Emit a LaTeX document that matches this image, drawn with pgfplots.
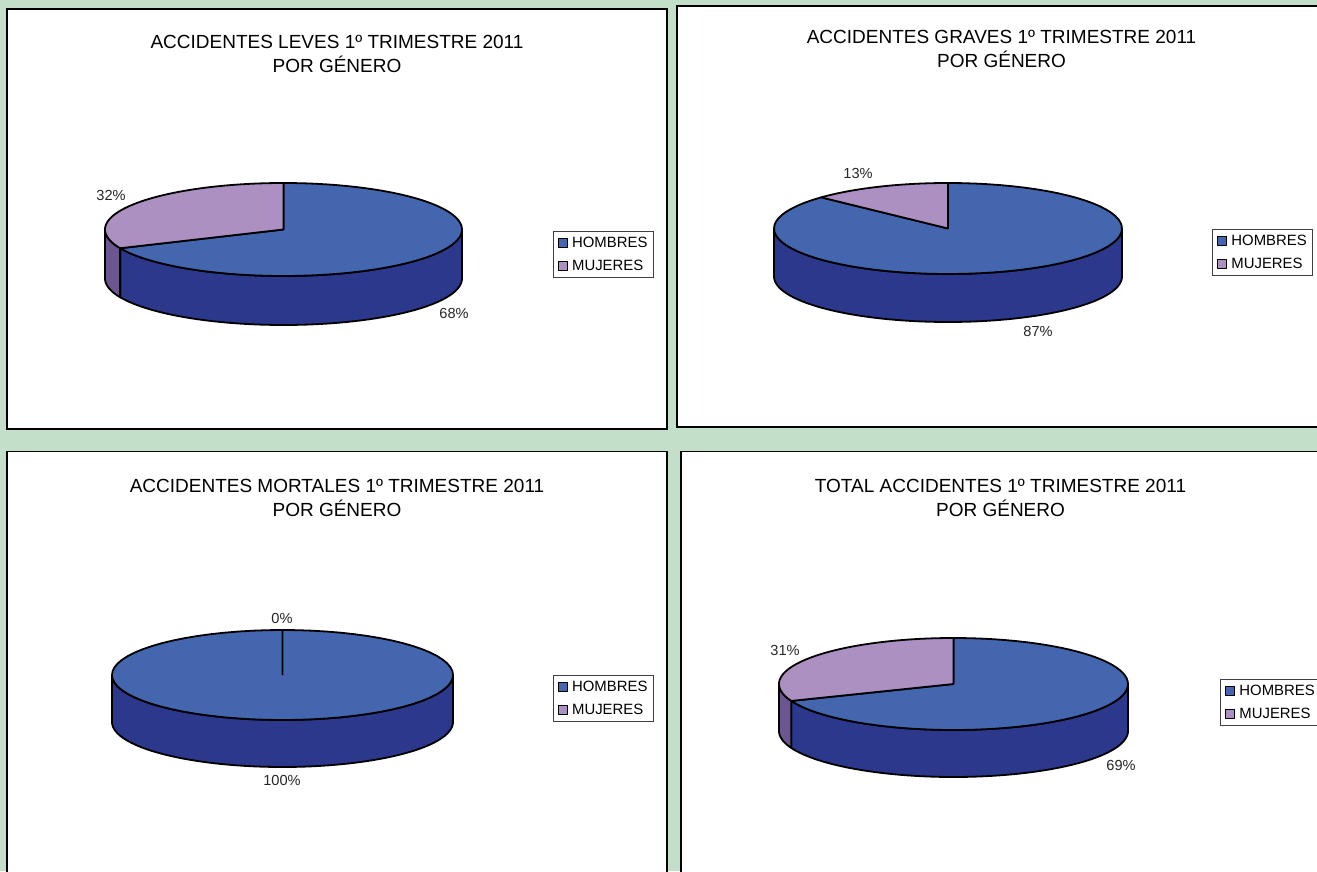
\documentclass[border=0pt]{standalone}
\usepackage{pgfplots}
\usepackage{pgfplotstable}
\usepackage{fontspec}
\setmainfont{Liberation Sans}
\pgfplotsset{compat=1.18}

\definecolor{fondo}{HTML}{C3DFC9}
\definecolor{hombres}{HTML}{4466AE}
\definecolor{hombreslado}{HTML}{2B388C}
\definecolor{mujeres}{HTML}{AD90C2}
\definecolor{mujereslado}{HTML}{6B5690}

% percentages per chart
\pgfplotstableread{
genero pct
HOMBRES 68.4
MUJERES 31.6
}\leves
\pgfplotstableread{
genero pct
HOMBRES 87
MUJERES 13
}\graves
\pgfplotstableread{
genero pct
HOMBRES 100
MUJERES 0
}\mortales
\pgfplotstableread{
genero pct
HOMBRES 69
MUJERES 31
}\totales

% cx cy rx ry from to: append an arc (degrees clockwise from the top) to \pts
\newcommand{\arcpts}[6]{%
  \foreach \i in {0,...,72}{%
    \pgfmathsetmacro\aa{#5+(#6-#5)/72*\i}%
    \pgfmathsetmacro\px{#1+#3*sin(\aa)}%
    \pgfmathsetmacro\py{#2-#4*cos(\aa)}%
    \xdef\pts{\pts (\px,\py)}%
  }%
}
\newcommand{\plotpts}[1]{%
  \edef\tmp{\noexpand\addplot[#1] coordinates {\pts};}\tmp
}
% cx cy rx ry from to depth colour: outer wall
\newcommand{\wall}[8]{%
  \gdef\pts{}%
  \arcpts{#1}{#2}{#3}{#4}{#5}{#6}%
  \pgfmathsetmacro\yb{#2+#7}%
  \arcpts{#1}{\yb}{#3}{#4}{#6}{#5}%
  \pgfmathsetmacro\px{#1+#3*sin(#5)}%
  \pgfmathsetmacro\py{#2-#4*cos(#5)}%
  \xdef\pts{\pts (\px,\py)}%
  \plotpts{pieline,fill=#8,forget plot}%
}
% cx cy rx ry from to colour extra: top slice
\newcommand{\slice}[8]{%
  \gdef\pts{(#1,#2)}%
  \arcpts{#1}{#2}{#3}{#4}{#5}{#6}%
  \xdef\pts{\pts (#1,#2)}%
  \plotpts{pieline,fill=#7,#8}%
}
% cx cy rx ry depth table
\newcommand{\tarta}[6]{%
  \pgfplotstablegetelem{1}{pct}\of{#6}%
  \pgfmathsetmacro\corte{360-3.6*\pgfplotsretval}%
  \pgfmathsetmacro\fin{min(\corte,270)}%
  \wall{#1}{#2}{#3}{#4}{90}{\fin}{#5}{hombreslado}%
  \pgfmathparse{\corte<270?1:0}%
  \ifnum\pgfmathresult=1
    \wall{#1}{#2}{#3}{#4}{\corte}{270}{#5}{mujereslado}%
  \fi
  \slice{#1}{#2}{#3}{#4}{0}{\corte}{hombres}{}%
  \slice{#1}{#2}{#3}{#4}{\corte}{360}{mujeres}{}%
  \addlegendentry{HOMBRES}%
  \addlegendentry{MUJERES}%
}

\tikzset{etiqueta/.style={font=\fontsize{14.6}{17}\selectfont,text=black!85}}
\pgfplotsset{
  pieline/.style={draw=black,line width=1.8pt,line join=round,mark=none},
  panel/.style n args={4}{
    xmin=#1,xmax=#3,ymin=#2,ymax=#4,
    y dir=reverse,
    scale only axis,
    width={(#3-#1)*1pt},height={(#4-#2)*1pt},
    at={({#1*1pt},{(871-#4)*1pt})},anchor=south west,
    ticks=none,
    axis line style={black,line width=1.3pt},
    axis background/.style={fill=white},
    title style={at={(0.5,1)},anchor=north,align=center,
      font=\fontsize{19}{24}\selectfont},
    legend cell align=left,
    legend style={draw=black!75,line width=0.8pt,anchor=north west,
      font=\fontsize{14.9}{17}\selectfont,
      inner xsep=4.5pt,inner ysep=3pt,row sep=6pt,
      /tikz/column 1/.style={column sep=3pt},
      nodes={inner xsep=1pt,inner ysep=2.5pt}},
    legend image code/.code={
      \draw[##1,draw=black,line width=1.5pt] (0pt,-4.5pt) rectangle (9pt,4.5pt);},
  },
}

\begin{document}
\begin{tikzpicture}[x=1pt,y=1pt]
\path[use as bounding box] (0,0) rectangle (1317,871);
\clip (0,0) rectangle (1317,871);
\fill[fondo] (0,0) rectangle (1317,871);

\begin{axis}[panel={7}{9}{667}{429},
  title style={yshift=-28.5pt},
  title={ACCIDENTES LEVES 1º TRIMESTRE 2011\\POR GÉNERO},
  legend style={at={(axis cs:552.7,231)}}]
\tarta{283.5}{229.5}{178.5}{46.5}{49}{\leves}
\node[etiqueta] at (axis cs:111,195) {32\%};
\node[etiqueta] at (axis cs:454,313) {68\%};
\end{axis}

\begin{axis}[panel={677}{6}{1326}{427},
  title style={yshift=-27pt},
  title={ACCIDENTES GRAVES 1º TRIMESTRE 2011\\POR GÉNERO},
  legend style={at={(axis cs:1212,229)}}]
\tarta{948}{228.5}{174}{45.5}{48}{\graves}
\node[etiqueta] at (axis cs:858,173) {13\%};
\node[etiqueta] at (axis cs:1038,331) {87\%};
\end{axis}

\begin{axis}[panel={7}{451.5}{667}{890},
  title style={yshift=-30pt},
  title={ACCIDENTES MORTALES 1º TRIMESTRE 2011\\POR GÉNERO},
  legend style={at={(axis cs:552.7,675)}}]
\tarta{282.5}{675}{170.5}{45}{47}{\mortales}
\node[etiqueta] at (axis cs:282,618) {0\%};
\node[etiqueta] at (axis cs:282,780) {100\%};
\end{axis}

\begin{axis}[panel={681}{451.5}{1320}{890},
  title style={yshift=-30pt},
  title={TOTAL ACCIDENTES 1º TRIMESTRE 2011\\POR GÉNERO},
  legend style={at={(axis cs:1220,679)}}]
\tarta{953.5}{684}{174.5}{46}{47}{\totales}
\node[etiqueta] at (axis cs:785,650) {31\%};
\node[etiqueta] at (axis cs:1121,765) {69\%};
\end{axis}
\end{tikzpicture}
\end{document}
